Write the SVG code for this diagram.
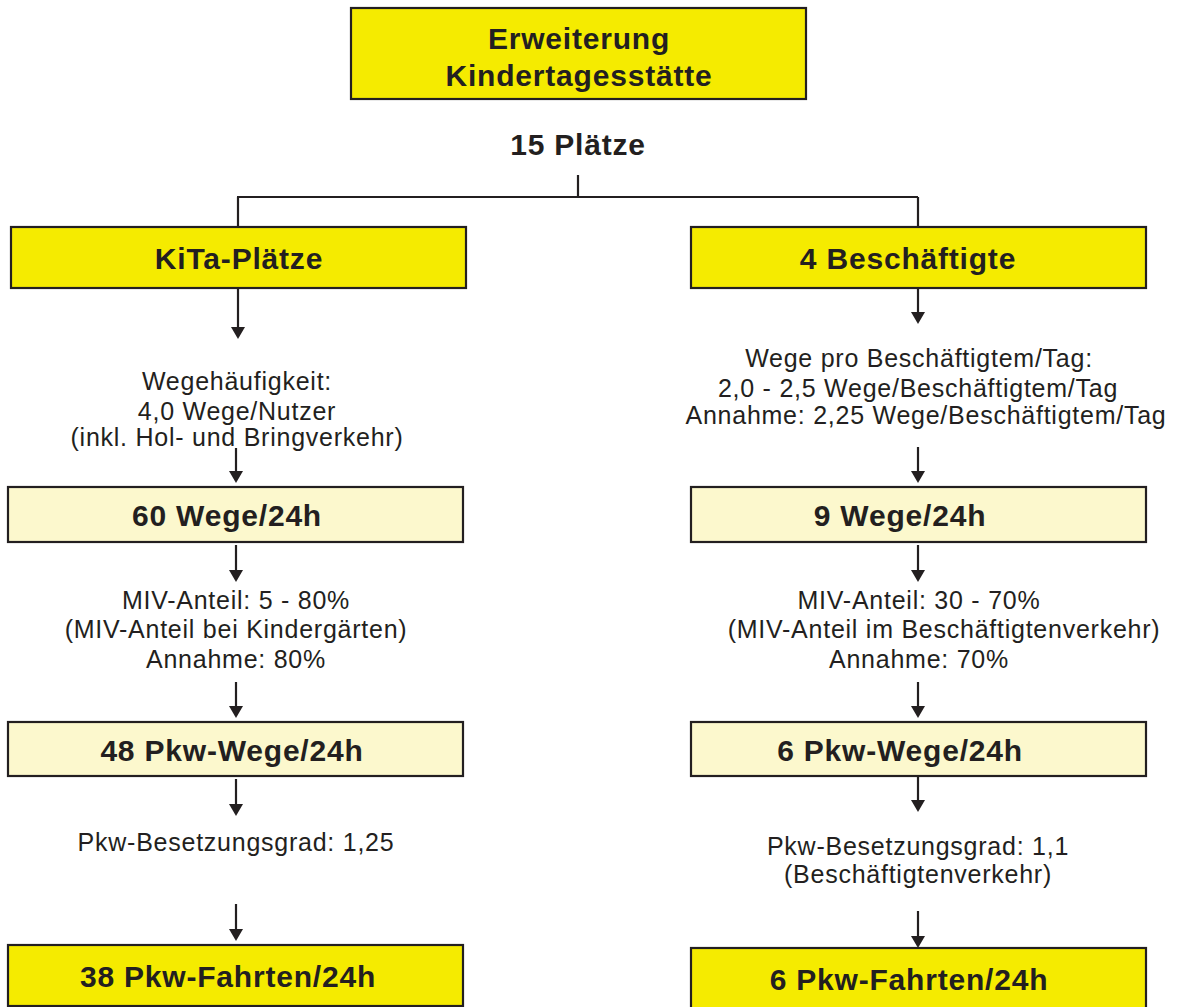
<svg xmlns="http://www.w3.org/2000/svg" width="1177" height="1007" viewBox="0 0 1177 1007">
<defs>
<marker id="ah" viewBox="0 0 12 14" refX="9" refY="7" markerWidth="12" markerHeight="14" markerUnits="userSpaceOnUse" orient="auto">
<path d="M0,0 L12,7 L0,14 z" fill="#231F20"/>
</marker>
<style>
.box{stroke:#231F20;stroke-width:2.2}
.y{fill:#F5EB00}
.ly{fill:#FCF8CD}
.b{font-family:"Liberation Sans",Arial,sans-serif;font-weight:bold;font-size:30px;letter-spacing:0.8px;fill:#231F20;text-anchor:middle}
.r{font-family:"Liberation Sans",Arial,sans-serif;font-size:25px;letter-spacing:0.75px;fill:#231F20;text-anchor:middle}
.c{fill:none;stroke:#231F20;stroke-width:2.2}
.a{fill:none;stroke:#231F20;stroke-width:2.2;marker-end:url(#ah)}
</style>
</defs>
<rect width="1177" height="1007" fill="#ffffff"/>
<g id="connectors">
<path class="c" d="M578,175 V197 M237,197 H918 M238,197 V227 M918,197 V227"/>
<path class="a" d="M238,288 V336"/>
<path class="a" d="M918,288 V321"/>
<path class="a" d="M236,448 V480"/>
<path class="a" d="M918,447 V480"/>
<path class="a" d="M236,545 V579"/>
<path class="a" d="M918,545 V579"/>
<path class="a" d="M236,682 V715"/>
<path class="a" d="M918,682 V715"/>
<path class="a" d="M236,779 V813"/>
<path class="a" d="M918,776 V809"/>
<path class="a" d="M236,904 V938"/>
<path class="a" d="M918,911 V945"/>
</g>
<g id="n-top">
<rect class="box y" x="351" y="8" width="455" height="91"/>
<text class="b" x="579" y="49">Erweiterung</text>
<text class="b" x="579" y="86">Kindertagesstätte</text>
</g>
<g id="n-plaetze">
<text class="b" x="578" y="155">15 Plätze</text>
</g>
<g id="n-kita">
<rect class="box y" x="11" y="227" width="455" height="61"/>
<text class="b" x="239" y="269">KiTa-Plätze</text>
</g>
<g id="n-besch">
<rect class="box y" x="691" y="227" width="455" height="61"/>
<text class="b" x="908" y="269">4 Beschäftigte</text>
</g>
<g id="t-wegehaeufigkeit">
<text class="r" x="237" y="390">Wegehäufigkeit:</text>
<text class="r" x="237" y="420">4,0 Wege/Nutzer</text>
<text class="r" x="237" y="446">(inkl. Hol- und Bringverkehr)</text>
</g>
<g id="t-wege-besch">
<text class="r" x="919" y="367">Wege pro Beschäftigtem/Tag:</text>
<text class="r" x="918" y="397">2,0 - 2,5 Wege/Beschäftigtem/Tag</text>
<text class="r" x="926" y="424">Annahme: 2,25 Wege/Beschäftigtem/Tag</text>
</g>
<g id="n-60wege">
<rect class="box ly" x="8" y="487" width="455" height="55"/>
<text class="b" x="227" y="526">60 Wege/24h</text>
</g>
<g id="n-9wege">
<rect class="box ly" x="691" y="487" width="455" height="55"/>
<text class="b" x="900" y="526">9 Wege/24h</text>
</g>
<g id="t-miv-left">
<text class="r" x="236" y="609">MIV-Anteil: 5 - 80%</text>
<text class="r" x="236" y="638">(MIV-Anteil bei Kindergärten)</text>
<text class="r" x="236" y="668">Annahme: 80%</text>
</g>
<g id="t-miv-right">
<text class="r" x="919" y="609">MIV-Anteil: 30 - 70%</text>
<text class="r" x="944" y="638">(MIV-Anteil im Beschäftigtenverkehr)</text>
<text class="r" x="919" y="668">Annahme: 70%</text>
</g>
<g id="n-48pkw">
<rect class="box ly" x="8" y="722" width="455" height="54"/>
<text class="b" x="232" y="761">48 Pkw-Wege/24h</text>
</g>
<g id="n-6pkw">
<rect class="box ly" x="691" y="722" width="455" height="54"/>
<text class="b" x="900" y="761">6 Pkw-Wege/24h</text>
</g>
<g id="t-bes-left">
<text class="r" x="236" y="851">Pkw-Besetzungsgrad: 1,25</text>
</g>
<g id="t-bes-right">
<text class="r" x="918" y="855">Pkw-Besetzungsgrad: 1,1</text>
<text class="r" x="918" y="883">(Beschäftigtenverkehr)</text>
</g>
<g id="n-38fahrten">
<rect class="box y" x="8" y="945" width="455" height="61"/>
<text class="b" x="228" y="987">38 Pkw-Fahrten/24h</text>
</g>
<g id="n-6fahrten">
<rect class="box y" x="691" y="948" width="455" height="61"/>
<text class="b" x="909" y="990">6 Pkw-Fahrten/24h</text>
</g>
</svg>
